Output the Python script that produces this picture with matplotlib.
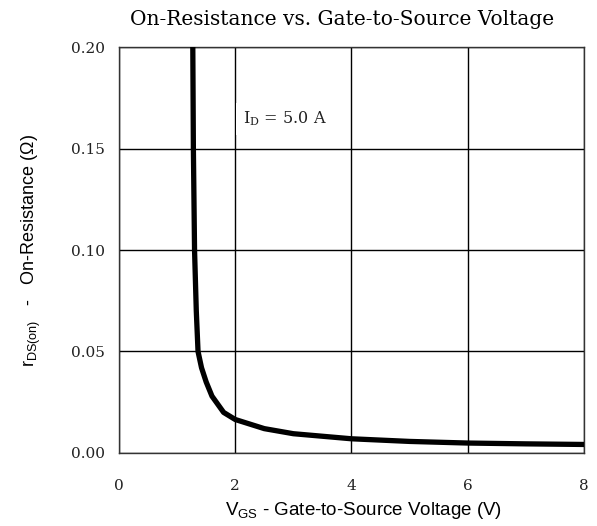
import numpy as np
import matplotlib.pyplot as plt

# On-resistance vs. gate-to-source voltage
vgs = [1.27, 1.28, 1.30, 1.33, 1.36, 1.42, 1.50, 1.60, 1.80, 2.00, 2.50, 3.00, 4.00, 5.00, 6.00, 7.00, 8.00]
rds = [0.200, 0.150, 0.100, 0.070, 0.050, 0.042, 0.035, 0.028, 0.020, 0.0165, 0.012, 0.0095, 0.0070, 0.0057, 0.0049, 0.0045, 0.0042]
x_ticks = [0, 2, 4, 6, 8]
y_ticks = [0.00, 0.05, 0.10, 0.15, 0.20]

serif = "DejaVu Serif"
sans = "Liberation Sans"
plt.rcParams["font.family"] = sans
plt.rcParams["mathtext.fontset"] = "custom"
plt.rcParams["mathtext.rm"] = sans

fig = plt.figure(figsize=(5.97, 5.26), dpi=100)
ax = fig.add_axes([0.1993, 0.1388, 0.7789, 0.7718])

ax.plot(vgs, rds, color="black", linewidth=3.8, solid_capstyle="round", zorder=3)

ax.set_xlim(0, 8)
ax.set_ylim(0, 0.20)
ax.set_xticks(x_ticks)
ax.set_yticks(y_ticks)
ax.set_xticklabels([str(v) for v in x_ticks], fontfamily=serif, fontsize=11, color="#222222")
ax.set_yticklabels(["%.2f" % v for v in y_ticks], fontfamily=serif, fontsize=11, color="#222222")
ax.tick_params(axis="x", length=0, pad=19)
ax.tick_params(axis="y", length=0, pad=10)
ax.grid(True, color="black", linewidth=1.0)
for s in ax.spines.values():
    s.set_linewidth(1.0)
    s.set_color("#333333")

ax.set_title("On-Resistance vs. Gate-to-Source Voltage", fontfamily=serif, fontsize=14.5, pad=16, x=0.48)
ax.set_xlabel(r"V$_{\mathregular{GS}}$ - Gate-to-Source Voltage (V)", fontsize=13.5, labelpad=5, x=0.525)
ax.set_ylabel(r"r$_{\mathregular{DS(on)}}$   -   On-Resistance ($\Omega$)", fontsize=13, labelpad=20)

ax.text(2.13, 0.1645, r"I$_{\mathregular{D}}$ = 5.0 A", fontfamily=serif, fontsize=11.5,
        va="center", ha="left", color="#222222",
        bbox=dict(facecolor="white", edgecolor="none", pad=5), zorder=4)

fig.savefig("out.png", dpi=100)
